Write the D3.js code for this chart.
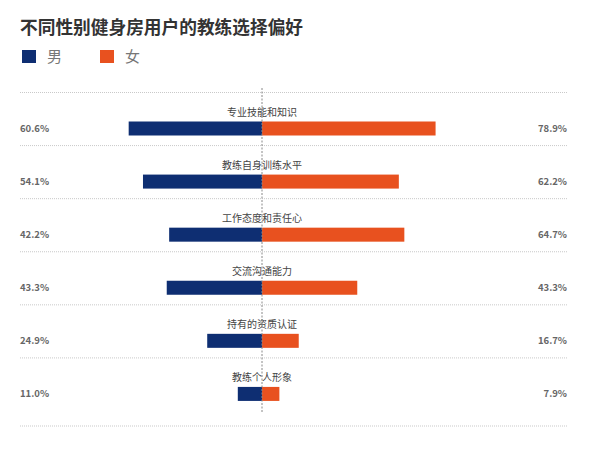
<!DOCTYPE html>
<html>
<head>
<meta charset="utf-8">
<script src="https://cdn.jsdelivr.net/npm/d3@7"></script>
<style>
  body { margin: 0; background: #fff; }
  svg text { font-family: "Noto Sans CJK SC", "Noto Sans", sans-serif; }
</style>
</head>
<body>
<div id="chart"></div>
<script>
const categories = ['专业技能和知识', '教练自身训练水平', '工作态度和责任心', '交流沟通能力', '持有的资质认证', '教练个人形象'];
const maleValues = [60.6, 54.1, 42.2, 43.3, 24.9, 11.0];
const femaleValues = [78.9, 62.2, 64.7, 43.3, 16.7, 7.9];
const seriesNames = ['男', '女'];

const width = 591, height = 453;
const colors = { male: '#0e2e72', female: '#e8511f' };

const svg = d3.select('#chart').append('svg')
    .attr('width', width)
    .attr('height', height);

// title
svg.append('text')
    .attr('x', 20).attr('y', 34)
    .attr('font-size', 17.7).attr('font-weight', 'bold')
    .attr('fill', '#333')
    .text('不同性别健身房用户的教练选择偏好');

// legend
const legend = svg.append('g');
seriesNames.forEach((name, i) => {
    const lx = 22 + i * 78;
    legend.append('rect')
        .attr('x', lx).attr('y', 50).attr('width', 14).attr('height', 13)
        .attr('fill', i === 0 ? colors.male : colors.female);
    legend.append('text')
        .attr('x', lx + 25).attr('y', 62)
        .attr('font-size', 15).attr('fill', '#777')
        .text(name);
});

const cx = 262;
const x = d3.scaleLinear().domain([0, 100]).range([0, 220]);
const y = d3.scaleBand().domain(categories).range([92.5, 411]).paddingInner(0).paddingOuter(0);
const barH = 14;
const barOffset = 29;

// grid lines
const gridYs = categories.map(c => y(c)).concat([426]);
svg.append('g').selectAll('line')
    .data(gridYs)
    .join('line')
    .attr('x1', 20).attr('x2', 568)
    .attr('y1', d => d).attr('y2', d => d)
    .attr('stroke', '#bbb').attr('stroke-width', 0.8)
    .attr('stroke-dasharray', '1,1');

const rows = svg.append('g').selectAll('g')
    .data(categories)
    .join('g')
    .attr('transform', c => `translate(0,${y(c)})`);

rows.append('rect')
    .attr('x', (c, i) => cx - x(maleValues[i]))
    .attr('y', barOffset)
    .attr('width', (c, i) => x(maleValues[i]))
    .attr('height', barH)
    .attr('fill', colors.male);

rows.append('rect')
    .attr('x', cx)
    .attr('y', barOffset)
    .attr('width', (c, i) => x(femaleValues[i]))
    .attr('height', barH)
    .attr('fill', colors.female);

rows.append('text')
    .attr('x', cx).attr('y', barOffset - 6)
    .attr('text-anchor', 'middle')
    .attr('font-size', 10).attr('fill', '#444')
    .text(c => c);

rows.append('text')
    .attr('x', 20).attr('y', barOffset + 7)
    .attr('dy', '0.35em')
    .attr('font-size', 9.5).attr('font-weight', 600).attr('fill', '#666')
    .text((c, i) => maleValues[i].toFixed(1) + '%');

rows.append('text')
    .attr('x', 567).attr('y', barOffset + 7)
    .attr('dy', '0.35em')
    .attr('text-anchor', 'end')
    .attr('font-size', 9.5).attr('font-weight', 600).attr('fill', '#666')
    .text((c, i) => femaleValues[i].toFixed(1) + '%');

// center dotted axis
svg.append('line')
    .attr('x1', cx).attr('x2', cx)
    .attr('y1', 88).attr('y2', 413)
    .attr('stroke', '#888').attr('stroke-width', 1)
    .attr('stroke-dasharray', '2,1.5');
</script>
</body>
</html>
